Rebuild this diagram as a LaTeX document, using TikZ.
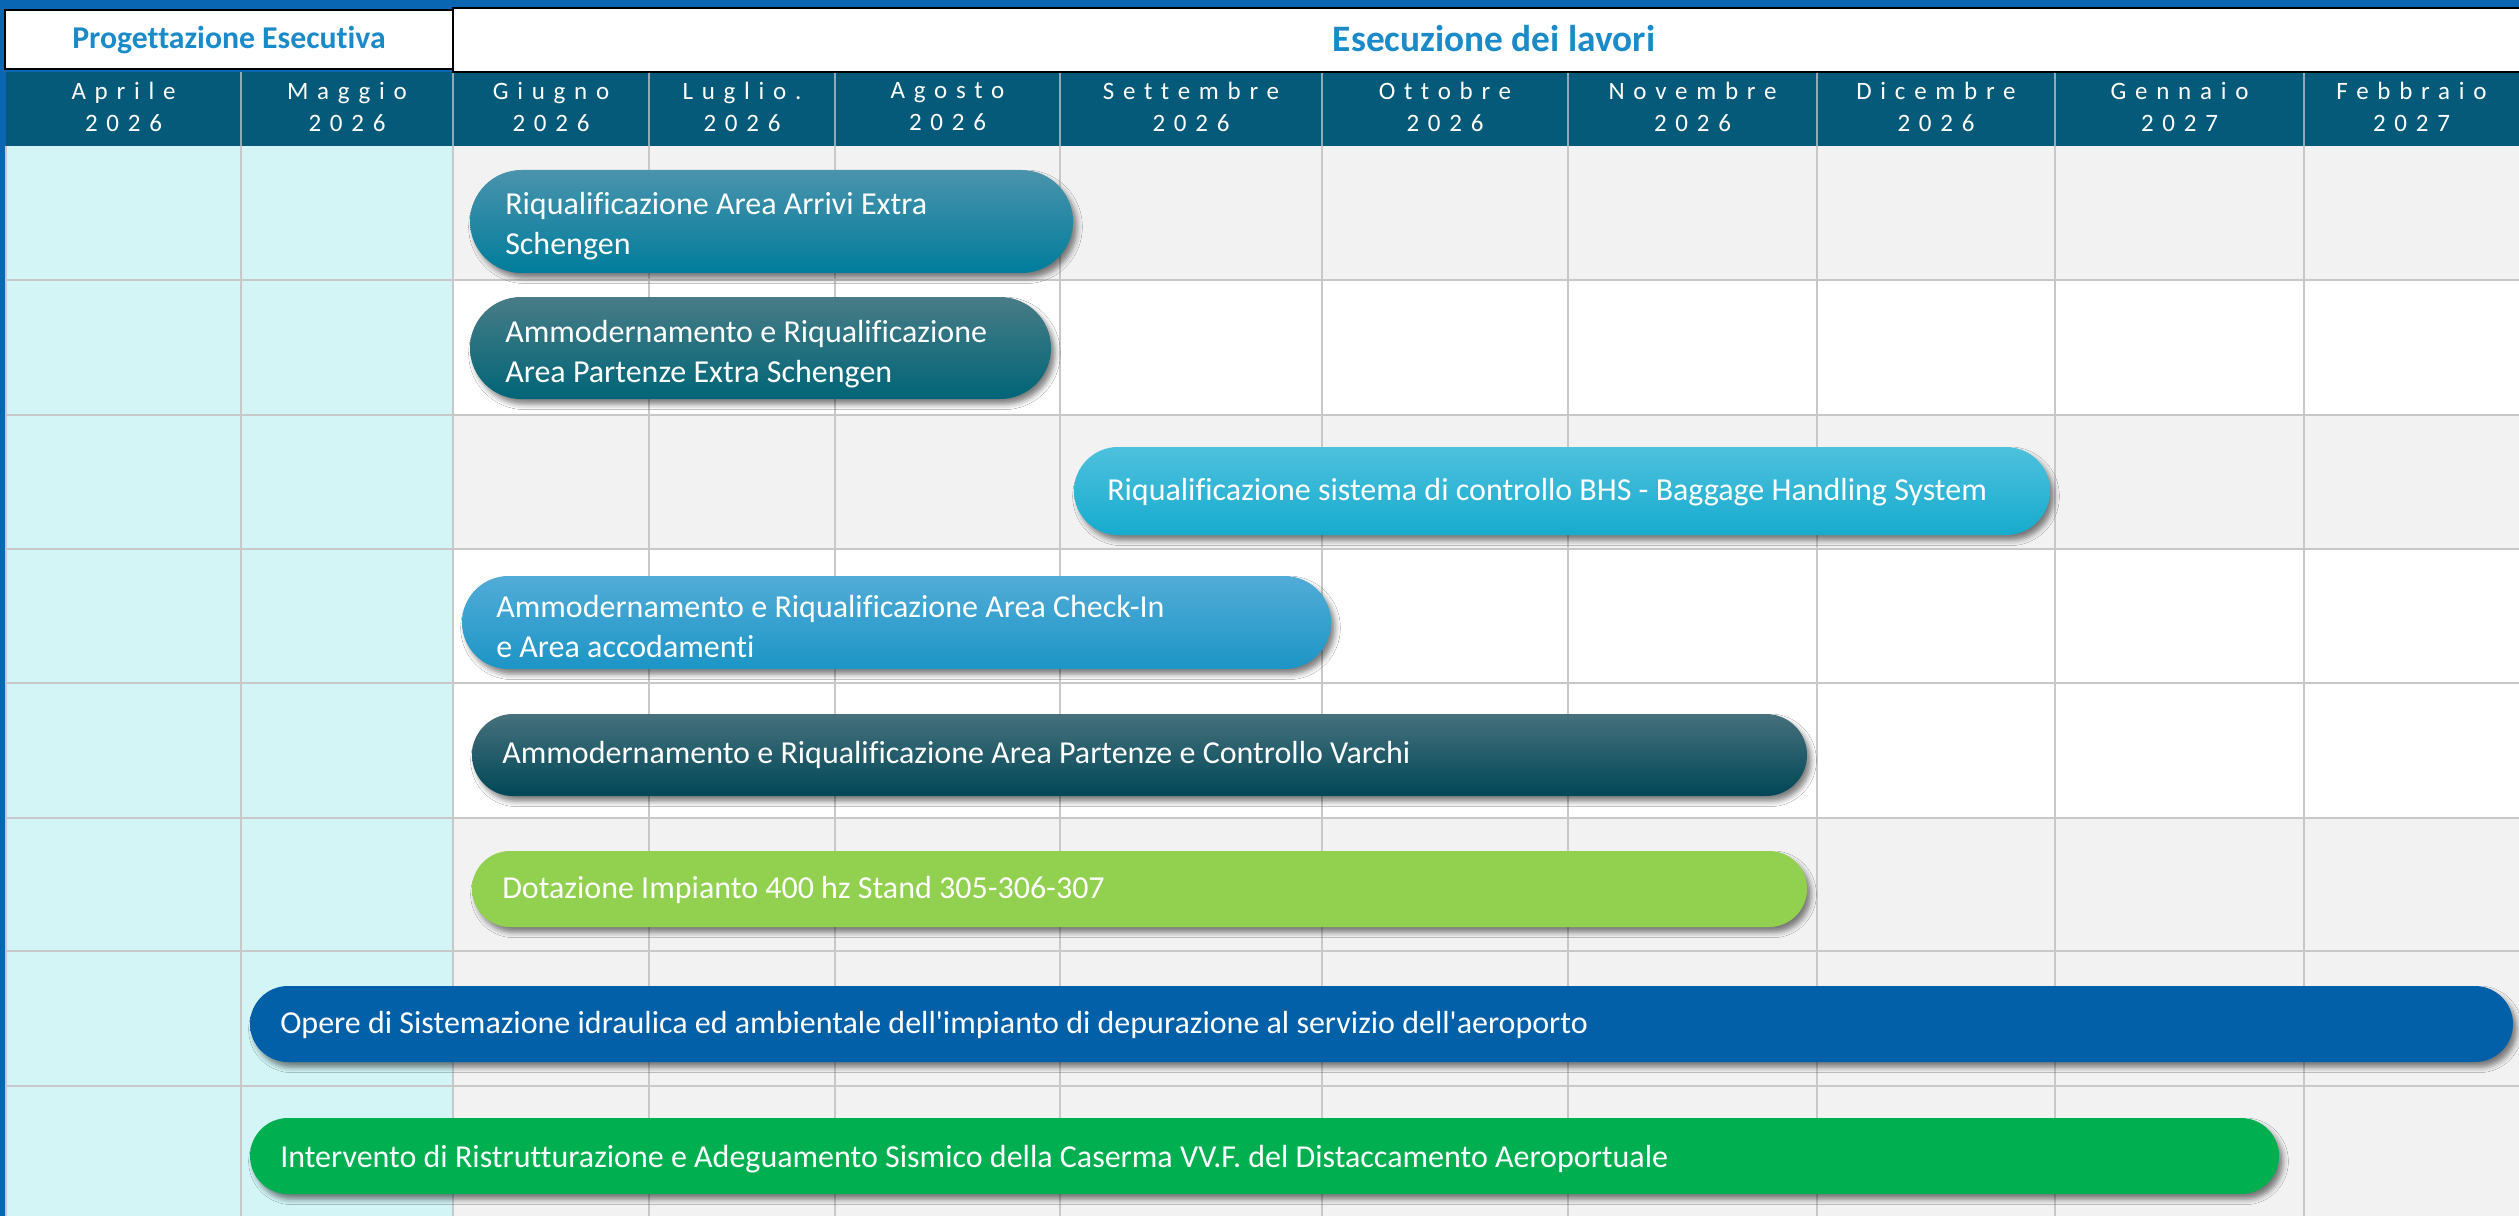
\documentclass[tikz,border=0pt]{standalone}
\usepackage{fontspec}
\setmainfont{Carlito}[Ligatures={CommonOff,TeXOff}]
\newfontfamily\monthfont{Carlito}[Ligatures={CommonOff,TeXOff},LetterSpace=35]
\usetikzlibrary{shadows.blur}
\definecolor{bgA}{HTML}{0866B2}
\definecolor{bgB}{HTML}{1792C9}
\definecolor{rowgray}{HTML}{F2F2F2}
\definecolor{cyanbg}{HTML}{D3F5F6}
\definecolor{gridc}{HTML}{C8C8C8}
\definecolor{hdr}{HTML}{045A78}
\definecolor{hdrsep}{HTML}{8FA9B5}
\definecolor{hdrblue}{HTML}{1A8BC8}
\definecolor{b1t}{HTML}{4A93AC}\definecolor{b1m}{HTML}{0084A4}\definecolor{b1b}{HTML}{007D9C}
\definecolor{b2t}{HTML}{487C87}\definecolor{b2m}{HTML}{006A7C}\definecolor{b2b}{HTML}{006577}
\definecolor{b3t}{HTML}{4EC1DD}\definecolor{b3m}{HTML}{28B5D6}\definecolor{b3b}{HTML}{16ABCE}
\definecolor{b4t}{HTML}{52ACD7}\definecolor{b4m}{HTML}{2AA0D1}\definecolor{b4b}{HTML}{1C95C6}
\definecolor{b5t}{HTML}{46707C}\definecolor{b5m}{HTML}{004B5E}\definecolor{b5b}{HTML}{004757}
\definecolor{b6}{HTML}{92D050}
\definecolor{b7}{HTML}{0260A9}
\definecolor{b8}{HTML}{00AF50}
\newcommand\gbar[7]{% x1 y1 x2 y2 top middle bottom
  \pgfmathsetmacro\barr{(#4-#2)*0.375}
  \path[barshadow, rounded corners=\barr pt, top color=#5, middle color=#6, bottom color=#7] (#1,#2) rectangle (#3,#4);
}
\tikzset{
  barshadow/.style={blur shadow={shadow xshift=3pt, shadow yshift=-4pt, shadow blur radius=4pt, shadow opacity=50}},
  gridline/.style={draw=gridc, line width=1.1pt},
  hdrline/.style={draw=hdrsep, line width=0.8pt},
  hdrbox/.style={fill=white, draw=black, line width=2.2pt},
  hdrtxt/.style={text=hdrblue, font=\bfseries\fontsize{23.8}{28}\selectfont, inner sep=0pt},
  monthlbl/.style={text=white, font=\monthfont\fontsize{18.75}{24}\selectfont, align=center, inner sep=0pt},
  bartxt/.style={text=white, font=\fontsize{24}{30}\selectfont, align=left, inner sep=0pt}
}
\begin{document}
\begin{tikzpicture}[x=0.75pt,y=-0.75pt]
\useasboundingbox (0,0) rectangle (2519,1216);
\shade[left color=bgA, middle color=bgB, right color=bgA] (0,0) rectangle (2519,1216);
% rows
\foreach \ya/\yb/\c in {146/280/rowgray, 280/415/white, 415/549/rowgray, 549/683/white, 683/818/white, 818/951/rowgray, 951/1086/rowgray, 1086/1216/rowgray}
  \fill[\c] (453,\ya) rectangle (2519,\yb);
\fill[cyanbg] (6,146) rectangle (453,1216);
\foreach \x in {6,241,453,649,835,1060,1322,1568,1817,2055,2304}
  \draw[gridline] (\x,146) -- (\x,1216);
\foreach \y in {280,415,549,683,818,951,1086}
  \draw[gridline] (6,\y) -- (2519,\y);
% month header
\fill[hdr] (6,72) rectangle (2519,146);
\foreach \x in {241,453,649,835,1060,1322,1568,1817,2055,2304}
  \draw[hdrline] (\x,72) -- (\x,146);
\foreach \n/\xa/\xb/\m/\yr in {m1/6/241/Aprile/2026, m2/241/453/Maggio/2026, m3/453/649/Giugno/2026, m4/649/835/Luglio./2026, m5/835/1060/Agosto/2026, m6/1060/1322/Settembre/2026, m7/1322/1568/Ottobre/2026, m8/1568/1817/Novembre/2026, m9/1817/2055/Dicembre/2026, m10/2055/2304/Gennaio/2027, m11/2304/2519/Febbraio/2027}
  \node[monthlbl] (\n) at ({(\xa+\xb)/2},107) {\m\\\yr};
% top boxes
\draw[hdrbox] (453,8) rectangle (2530,72);
\draw[hdrbox] (5,10) rectangle (453,69);
\node[hdrtxt, anchor=base] (pe) at (229,49) {Progettazione Esecutiva};
\node[hdrtxt, anchor=base, font=\bfseries\fontsize{28}{32}\selectfont] (el) at (1494,52) {Esecuzione dei lavori};
% bars
\gbar{470}{170}{1073}{273}{b1t}{b1m}{b1b}
\node[bartxt, anchor=west] (t1) at (505,226) {Riqualificazione Area Arrivi Extra\\Schengen};
\gbar{470}{297}{1051}{399}{b2t}{b2m}{b2b}
\node[bartxt, anchor=west] (t2) at (505,354) {Ammodernamento e Riqualificazione\\Area Partenze Extra Schengen};
\gbar{1074}{447}{2050}{535}{b3t}{b3m}{b3b}
\node[bartxt, anchor=base west] (t3) at (1107,500) {Riqualificazione sistema di controllo BHS - Baggage Handling System};
\gbar{462}{576}{1331}{669}{b4t}{b4m}{b4b}
\node[bartxt, anchor=west] (t4) at (496,627) {Ammodernamento e Riqualificazione Area Check-In\\e Area accodamenti};
\gbar{472}{714}{1807}{796}{b5t}{b5m}{b5b}
\node[bartxt, anchor=base west] (t5) at (502,763) {Ammodernamento e Riqualificazione Area Partenze e Controllo Varchi};
\gbar{472}{851}{1807}{927}{b6}{b6}{b6}
\node[bartxt, anchor=base west] (t6) at (502,898) {Dotazione Impianto 400 hz Stand 305-306-307};
\gbar{250}{986}{2513}{1062}{b7}{b7}{b7}
\node[bartxt, anchor=base west] (t7) at (280,1033) {Opere di Sistemazione idraulica ed ambientale dell'impianto di depurazione al servizio dell'aeroporto};
\gbar{250}{1118}{2279}{1194}{b8}{b8}{b8}
\node[bartxt, anchor=base west] (t8) at (280,1167) {Intervento di Ristrutturazione e Adeguamento Sismico della Caserma VV.F. del Distaccamento Aeroportuale};
\end{tikzpicture}
\end{document}
